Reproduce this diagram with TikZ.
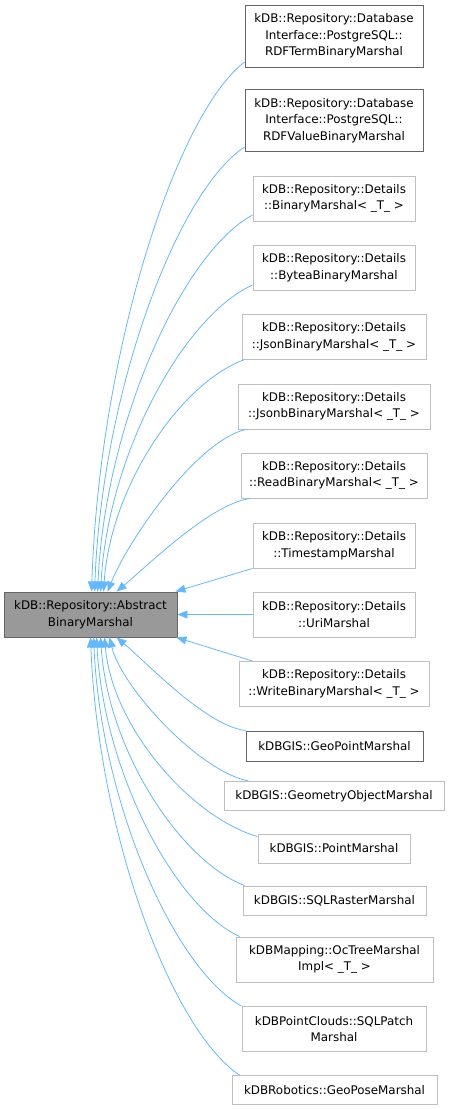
\documentclass[tikz,border=0pt]{standalone}
\usepackage{fontspec}
\setmainfont{DejaVu Sans}
\usetikzlibrary{arrows.meta}
\definecolor{edgeblue}{HTML}{63B8FF}
\definecolor{darkborder}{HTML}{666666}
\definecolor{lightborder}{HTML}{BFBFBF}
\definecolor{basefill}{HTML}{999999}
\begin{document}
\begin{tikzpicture}[x=1pt,y=-1pt,
  cls/.style={draw=lightborder, fill=white, line width=0.9pt, align=center, inner sep=0pt,
    font=\fontsize{11.9}{16.7}\selectfont, text=black},
  dcls/.style={cls, draw=darkborder},
  basecls/.style={cls, draw=darkborder, fill=basefill},
  two/.style={minimum height=45pt},
  one/.style={minimum height=29pt},
  edge/.style={draw=edgeblue, line width=0.8pt, -{Triangle[length=10pt,width=8pt]}}]
\useasboundingbox (0,0) rectangle (449,1109);

\node[basecls, minimum width=173pt, minimum height=45pt] (base) at (90.5,614.5) {kDB::Repository::Abstract\\BinaryMarshal};

\node[dcls, minimum width=178pt, minimum height=62pt] (n1) at (334,36) {kDB::Repository::Database\\Interface::PostgreSQL::\\RDFTermBinaryMarshal};
\node[dcls, minimum width=178pt, minimum height=62pt] (n2) at (334,120.5) {kDB::Repository::Database\\Interface::PostgreSQL::\\RDFValueBinaryMarshal};
\node[cls, two, minimum width=162pt] (n3) at (334,198.5) {kDB::Repository::Details\\::BinaryMarshal< \_T\_ >};
\node[cls, two, minimum width=162pt] (n4) at (334,268) {kDB::Repository::Details\\::ByteaBinaryMarshal};
\node[cls, two, minimum width=184pt] (n5) at (334,337) {kDB::Repository::Details\\::JsonBinaryMarshal< \_T\_ >};
\node[cls, two, minimum width=192pt] (n6) at (334,406.5) {kDB::Repository::Details\\::JsonbBinaryMarshal< \_T\_ >};
\node[cls, two, minimum width=186pt] (n7) at (334,475.5) {kDB::Repository::Details\\::ReadBinaryMarshal< \_T\_ >};
\node[cls, two, minimum width=162pt] (n8) at (334,545.5) {kDB::Repository::Details\\::TimestampMarshal};
\node[cls, two, minimum width=162pt] (n9) at (334,614.5) {kDB::Repository::Details\\::UriMarshal};
\node[cls, two, minimum width=190pt] (n10) at (334,684) {kDB::Repository::Details\\::WriteBinaryMarshal< \_T\_ >};
\node[dcls, minimum height=30pt, minimum width=177pt] (n11) at (334.5,746) {kDBGIS::GeoPointMarshal};
\node[cls, one, minimum width=220pt] (n12) at (334,796) {kDBGIS::GeometryObjectMarshal};
\node[cls, one, minimum width=152pt] (n13) at (334,848.5) {kDBGIS::PointMarshal};
\node[cls, one, minimum width=183pt] (n14) at (334.5,900.5) {kDBGIS::SQLRasterMarshal};
\node[cls, two, minimum width=197pt] (n15) at (334.5,959.5) {kDBMapping::OcTreeMarshal\\Impl< \_T\_ >};
\node[cls, two, minimum width=184pt] (n16) at (334,1029) {kDBPointClouds::SQLPatch\\Marshal};
\node[cls, one, minimum width=205pt] (n17) at (334.5,1090) {kDBRobotics::GeoPoseMarshal};

\draw[edge] ([yshift=-26pt]n1.west) .. controls +(-68.9,52.9) and +(7.7,-238) .. ([xshift=88pt]base.north west);
\draw[edge] ([yshift=-26.5pt]n2.west) .. controls +(-67.5,44.4) and +(7.5,-199.8) .. ([xshift=91pt]base.north west);
\draw[edge] ([yshift=-16.5pt]n3.west) .. controls +(-69.8,37.6) and +(7.8,-169.2) .. ([xshift=94pt]base.north west);
\draw[edge] ([yshift=-17pt]n4.west) .. controls +(-68.4,30.6) and +(7.6,-137.7) .. ([xshift=97pt]base.north west);
\draw[edge] ([xshift=2pt]n5.south west) .. controls +(-63,23.4) and +(7,-105.3) .. ([xshift=100pt]base.north west);
\draw[edge] ([xshift=8pt]n6.south west) .. controls +(-50,12) and +(20,-50) .. ([xshift=104pt]base.north west);
\draw[edge] ([xshift=10pt]n7.south west) .. controls +(-40,5) and +(30,-25) .. ([xshift=113pt]base.north west);
\draw[edge] (n8.south west) -- ([xshift=-2pt]base.north east);
\draw[edge] (n9.west) -- (base.east);
\draw[edge] ([xshift=14pt]n10.north west) -- ([xshift=-1pt]base.south east);
\draw[edge] (n11.north west) .. controls +(-40,-5) and +(30,25) .. ([xshift=113pt]base.south west);
\draw[edge] ([xshift=25pt]n12.north west) .. controls +(-50,-10) and +(12,50) .. ([xshift=106pt]base.south west);
\draw[edge] ([yshift=-3pt]n13.north west) .. controls +(-67.5,-19.8) and +(7.5,89) .. ([xshift=101pt]base.south west);
\draw[edge] ([xshift=2pt]n14.north west) .. controls +(-64.8,-24.9) and +(7.2,112) .. ([xshift=97pt]base.south west);
\draw[edge] ([xshift=4pt]n15.north west) .. controls +(-64.8,-29.9) and +(7.2,134.6) .. ([xshift=93pt]base.south west);
\draw[edge] (n16.north west) .. controls +(-67,-36.9) and +(7.45,166) .. ([xshift=90pt]base.south west);
\draw[edge] ([xshift=8pt]n17.north west) .. controls +(-67,-43.8) and +(7.45,197) .. ([xshift=87pt]base.south west);
\end{tikzpicture}
\end{document}
